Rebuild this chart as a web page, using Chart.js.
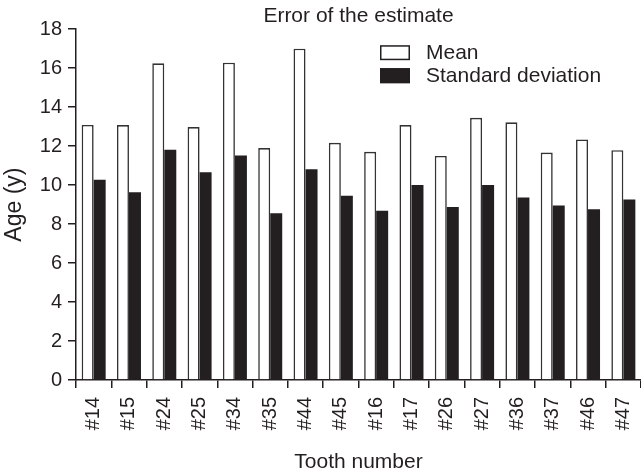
<!DOCTYPE html>
<html>
<head>
<meta charset="utf-8">
<script src="https://cdn.jsdelivr.net/npm/chart.js@4/dist/chart.umd.min.js"></script>
<style>
html,body{margin:0;padding:0;background:#fff;}
canvas{display:block;}
</style>
</head>
<body>
<canvas id="c" width="641" height="475"></canvas>
<script>
const categories = ["#14","#15","#24","#25","#34","#35","#44","#45","#16","#17","#26","#27","#36","#37","#46","#47"];
const meanValues = [13.09, 13.08, 16.25, 12.98, 16.28, 11.90, 17.00, 12.17, 11.71, 13.08, 11.50, 13.45, 13.22, 11.67, 12.34, 11.79];
const sdValues = [10.27, 9.63, 11.81, 10.66, 11.52, 8.55, 10.82, 9.45, 8.69, 10.00, 8.88, 10.01, 9.36, 8.95, 8.76, 9.26];
const yTicks = [0, 2, 4, 6, 8, 10, 12, 14, 16, 18];
const seriesNames = ["Mean", "Standard deviation"];
const titleText = "Error of the estimate";
const xTitle = "Tooth number";
const yTitle = "Age (y)";

const INK = "#231f20";
const FONT = "'Liberation Sans', Arial, Helvetica, sans-serif";

const legendPlugin = {
  id: "insideLegend",
  afterDraw(chart) {
    const ctx = chart.ctx;
    const ca = chart.chartArea;
    const x0 = ca.left + 304;
    const y0 = ca.top + 16;
    ctx.save();
    ctx.font = "21px " + FONT;
    ctx.textBaseline = "middle";
    ctx.textAlign = "left";
    chart.data.datasets.forEach((ds, i) => {
      const y = y0 + i * 23;
      ctx.fillStyle = ds.backgroundColor;
      ctx.fillRect(x0, y, 30, 15);
      ctx.strokeStyle = INK;
      ctx.lineWidth = 1.5;
      ctx.strokeRect(x0 + 0.75, y + 0.75, 28.5, 13.5);
      ctx.fillStyle = INK;
      ctx.fillText(ds.label, x0 + 46, y + 8);
    });
    ctx.restore();
  }
};

new Chart(document.getElementById("c"), {
  type: "bar",
  data: {
    labels: categories,
    datasets: [
      {
        label: seriesNames[0],
        data: meanValues,
        backgroundColor: "#ffffff",
        borderColor: "#333333",
        borderWidth: 1.6,
        borderSkipped: "start"
      },
      {
        label: seriesNames[1],
        data: sdValues,
        backgroundColor: INK,
        borderColor: INK,
        borderWidth: 0
      }
    ]
  },
  options: {
    responsive: false,
    animation: false,
    devicePixelRatio: 1,
    layout: { padding: { left: 0, right: 0, top: 0, bottom: 0 } },
    datasets: { bar: { categoryPercentage: 0.68, barPercentage: 1.0 } },
    plugins: {
      legend: { display: false },
      tooltip: { enabled: false },
      title: {
        display: true,
        text: titleText,
        fullSize: false,
        color: INK,
        font: { family: FONT, size: 21, weight: "normal" },
        padding: { top: 4, bottom: 0 }
      }
    },
    scales: {
      x: {
        offset: true,
        afterFit(scale) {
          scale.height = 95;
          scale.paddingLeft = 0;
          scale.paddingRight = 0;
        },
        grid: {
          display: true,
          offset: true,
          drawOnChartArea: false,
          drawTicks: true,
          tickLength: 8,
          color: INK,
          lineWidth: 1.5
        },
        border: { display: true, color: INK, width: 1.5 },
        ticks: {
          color: INK,
          font: { family: FONT, size: 20 },
          minRotation: 90,
          maxRotation: 90,
          padding: 9,
          autoSkip: false
        },
        title: {
          display: true,
          text: xTitle,
          color: INK,
          font: { family: FONT, size: 21 },
          padding: { top: 20, bottom: 0 }
        }
      },
      y: {
        min: 0,
        max: 18,
        afterBuildTicks(scale) {
          scale.ticks = yTicks.map(v => ({ value: v }));
        },
        afterFit(scale) {
          scale.width = 76;
        },
        grid: {
          display: true,
          drawOnChartArea: false,
          drawTicks: true,
          tickLength: 8,
          color: INK,
          lineWidth: 1.5
        },
        border: { display: true, color: INK, width: 1.5 },
        ticks: {
          color: INK,
          font: { family: FONT, size: 20 },
          padding: 6
        },
        title: {
          display: true,
          text: yTitle,
          color: INK,
          font: { family: FONT, size: 23 },
          padding: { top: 1, bottom: 10 }
        }
      }
    }
  },
  plugins: [legendPlugin]
});
</script>
</body>
</html>
